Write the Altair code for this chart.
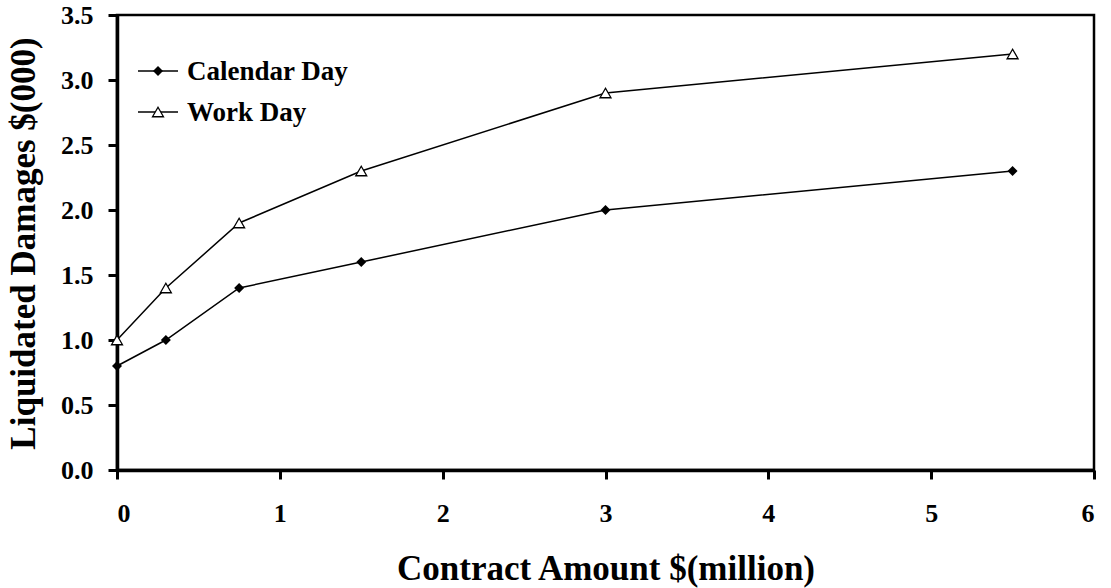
import altair as alt
import pandas as pd

contract = [0, 0.3, 0.75, 1.5, 3, 5.5]
calendar_day = [0.8, 1.0, 1.4, 1.6, 2.0, 2.3]
work_day = [1.0, 1.4, 1.9, 2.3, 2.9, 3.2]
series_names = ["Calendar Day", "Work Day"]
x_ticks = [0, 1, 2, 3, 4, 5, 6]
y_ticks = [0, 0.5, 1.0, 1.5, 2.0, 2.5, 3.0, 3.5]

rows = []
for x, c, w in zip(contract, calendar_day, work_day):
    rows.append({"x": x, "y": c, "s": series_names[0]})
    rows.append({"x": x, "y": w, "s": series_names[1]})
df = pd.DataFrame(rows)

FONT = "Liberation Serif"
DIAMOND_SIZE = 100
TRIANGLE_SIZE = 120

xenc = alt.X("x:Q", scale=alt.Scale(domain=[0, 6], nice=False),
             axis=alt.Axis(values=x_ticks, format="d", grid=False,
                           title="Contract Amount $(million)",
                           titleBaseline="alphabetic", titleY=109,
                           labelPadding=21, tickSize=9, tickWidth=3, domainWidth=3.5))
yenc = alt.Y("y:Q", scale=alt.Scale(domain=[0, 3.5], nice=False),
             axis=alt.Axis(values=y_ticks, format=".1f", grid=False,
                           title="Liquidated Damages $(000)",
                           titleBaseline="alphabetic", titleAngle=270, titleX=-83, titleY=228,
                           titleAlign="center",
                           labelPadding=15, tickSize=9, tickWidth=3, domainWidth=3.5))

base = alt.Chart(df)
lines = base.mark_line(color="black", strokeWidth=1.5).encode(x=xenc, y=yenc, detail="s:N")
cal_pts = base.transform_filter(alt.datum.s == series_names[0]).mark_point(
    shape="diamond", filled=True, color="black", size=DIAMOND_SIZE, opacity=1).encode(x="x:Q", y="y:Q")
work_pts = base.transform_filter(alt.datum.s == series_names[1]).mark_point(
    shape="triangle-up", filled=True, fill="white", stroke="black", strokeWidth=1.3,
    size=TRIANGLE_SIZE, opacity=1).encode(x="x:Q", y="y:Q")

# manual legend (inside plot, top-left)
leg = pd.DataFrame({"s": series_names})
legbase = alt.Chart(leg)
legend_rows = {series_names[0]: 56, series_names[1]: 97}
leg_layers = []
for name, ypix in legend_rows.items():
    sub = legbase.transform_filter(alt.datum.s == name)
    leg_layers.append(sub.mark_rule(color="black", strokeWidth=1.5).encode(
        x=alt.value(21), x2=alt.value(61), y=alt.value(ypix)))
    if name == series_names[0]:
        leg_layers.append(sub.mark_point(shape="diamond", filled=True, color="black",
                                         size=DIAMOND_SIZE, opacity=1).encode(x=alt.value(41), y=alt.value(ypix)))
    else:
        leg_layers.append(sub.mark_point(shape="triangle-up", filled=True, fill="white",
                                         stroke="black", strokeWidth=1.3, size=TRIANGLE_SIZE,
                                         opacity=1).encode(x=alt.value(41), y=alt.value(ypix)))
    leg_layers.append(sub.mark_text(align="left", baseline="middle", font=FONT, fontWeight="bold",
                                    fontSize=27, color="black", dy=1).encode(
        x=alt.value(70), y=alt.value(ypix), text="s:N"))

chart = alt.layer(lines, cal_pts, work_pts, *leg_layers).properties(
    width=977, height=455,
    autosize=alt.AutoSizeParams(type="none"),
    padding={"left": 117, "top": 15, "right": 17, "bottom": 118},
    background="white",
).configure_view(stroke="black", strokeWidth=2.5).configure_axis(
    labelFont=FONT, labelFontWeight="bold", labelFontSize=26, labelColor="black",
    titleFont=FONT, titleFontWeight="bold", titleFontSize=35, titleColor="black",
    domainColor="black", tickColor="black",
)

chart.save("out.html", embed_options={"renderer": "svg", "actions": False})
